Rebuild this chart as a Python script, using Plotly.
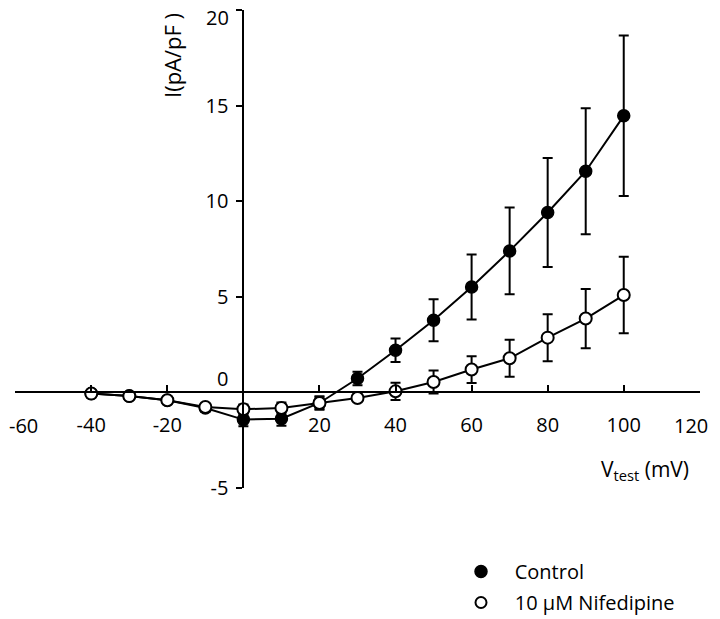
import plotly.graph_objects as go

# Data
v_test = [-40, -30, -20, -10, 0, 10, 20, 30, 40, 50, 60, 70, 80, 90, 100]
control = [-0.07, -0.2, -0.42, -0.82, -1.43, -1.38, -0.56, 0.72, 2.2, 3.77, 5.51, 7.4, 9.41, 11.57, 14.47]
control_err = [0.05, 0.05, 0.1, 0.2, 0.35, 0.37, 0.35, 0.35, 0.62, 1.1, 1.7, 2.27, 2.85, 3.3, 4.2]
nifedipine = [-0.07, -0.2, -0.42, -0.77, -0.89, -0.82, -0.56, -0.3, 0.05, 0.54, 1.19, 1.78, 2.86, 3.86, 5.09]
nifedipine_err = [0.05, 0.05, 0.08, 0.15, 0.25, 0.28, 0.3, 0.15, 0.45, 0.6, 0.7, 0.97, 1.23, 1.55, 2.0]

x_ticks = [-60, -40, -20, 20, 40, 60, 80, 100, 120]
x_ticktext = ["", "-40", "-20", "20", "40", "60", "80", "100", ""]
y_ticks = [-5, 0, 5, 10, 15, 20]
y_ticktext = ["-5", "", "5", "10", "15", ""]

FONT = "Open Sans"
FS = 20

# page has an 8px body margin; figure is sized/positioned to compensate
OFF = 8
W, H = 720 - OFF, 619 - OFF
ML, MR, MT, MB = 15 - OFF, W - (700 - OFF), 10 - OFF, H - (488 - OFF)
pw = W - ML - MR
ph = H - MT - MB


def px(x):
    return (x - OFF - ML) / pw


def py(y):
    return 1 - (y - OFF - MT) / ph


fig = go.Figure()

fig.add_trace(go.Scatter(
    x=v_test, y=control, mode="lines+markers", name="Control",
    line=dict(color="black", width=2),
    marker=dict(symbol="circle", size=12, color="black", line=dict(color="black", width=1.5)),
    error_y=dict(type="data", array=control_err, visible=True, color="black", thickness=2, width=5),
    showlegend=False,
))
fig.add_trace(go.Scatter(
    x=v_test, y=nifedipine, mode="lines+markers", name="10 μM Nifedipine",
    line=dict(color="black", width=2),
    marker=dict(symbol="circle", size=12, color="white", line=dict(color="black", width=2)),
    error_y=dict(type="data", array=nifedipine_err, visible=True, color="black", thickness=2, width=5),
    showlegend=False,
))

# legend entries
fig.add_trace(go.Scatter(
    x=[None], y=[None], mode="markers", name="\u00a0\u00a0\u2009Control", legendgroup="a",
    marker=dict(symbol="circle", size=12, color="black", line=dict(color="black", width=1.5)),
))
fig.add_trace(go.Scatter(
    x=[None], y=[None], mode="markers", name="\u00a0\u00a0\u200910 μM Nifedipine", legendgroup="b",
    marker=dict(symbol="circle", size=11, color="white", line=dict(color="black", width=2)),
))

fig.update_layout(
    width=W, height=H,
    margin=dict(l=ML, r=MR, t=MT, b=MB, autoexpand=False),
    paper_bgcolor="white", plot_bgcolor="white",
    font=dict(family=FONT, size=FS, color="black"),
    xaxis=dict(
        range=[-60.05, 120.05], anchor="free", position=5.01 / 25.02, automargin=False,
        tickvals=x_ticks, ticktext=x_ticktext,
        ticks="inside", ticklen=6, tickwidth=2, tickcolor="black",
        showline=True, linecolor="black", linewidth=2,
        showgrid=False, zeroline=False, ticklabelstandoff=15,
        ticklabeloverflow="allow",
        tickfont=dict(family=FONT, size=FS),
    ),
    yaxis=dict(
        range=[-5.01, 20.01], anchor="free", position=60.05 / 180.1, automargin=False,
        tickvals=y_ticks, ticktext=y_ticktext,
        ticks="outside", ticklen=6, tickwidth=2, tickcolor="black",
        showline=True, linecolor="black", linewidth=2,
        showgrid=False, zeroline=False, ticklabelstandoff=4,
        ticklabeloverflow="allow",
        tickfont=dict(family=FONT, size=FS),
    ),
    legend=dict(
        x=px(461), y=py(552),
        xanchor="left", yanchor="top",
        bgcolor="rgba(0,0,0,0)", font=dict(family=FONT, size=FS),
        itemwidth=30, tracegroupgap=2,
    ),
    showlegend=True,
)

# y tick labels "0" (raised above the x axis) and "20" (kept inside the page)
fig.add_annotation(x=0, y=0, xref="x", yref="y", text="0", showarrow=False,
                   xanchor="right", yanchor="middle", xshift=-13, yshift=14,
                   font=dict(family=FONT, size=FS))
fig.add_annotation(x=0, y=20, xref="x", yref="y", text="20", showarrow=False,
                   xanchor="right", yanchor="middle", xshift=-13, yshift=-7, borderpad=0,
                   font=dict(family=FONT, size=FS))
# x tick labels "-60" and "120" kept inside the page
fig.add_annotation(x=-60, y=0, xref="x", yref="y", text="-60", showarrow=False,
                   xanchor="left", yanchor="middle", xshift=-8, yshift=-33,
                   font=dict(family=FONT, size=FS))
fig.add_annotation(x=120, y=0, xref="x", yref="y", text="120", showarrow=False,
                   xanchor="right", yanchor="middle", xshift=10, yshift=-33,
                   font=dict(family=FONT, size=FS))
fig.add_annotation(x=px(172), y=py(56), xref="paper", yref="paper", text="I(pA/pF )",
                   showarrow=False, textangle=-90, xanchor="center", yanchor="middle",
                   font=dict(family=FONT, size=22))
fig.add_annotation(x=px(599), y=py(470), xref="paper", yref="paper", text="V<sub>test</sub> (mV)",
                   showarrow=False, xanchor="left", yanchor="middle",
                   font=dict(family=FONT, size=21))

fig.write_html("out.html")
